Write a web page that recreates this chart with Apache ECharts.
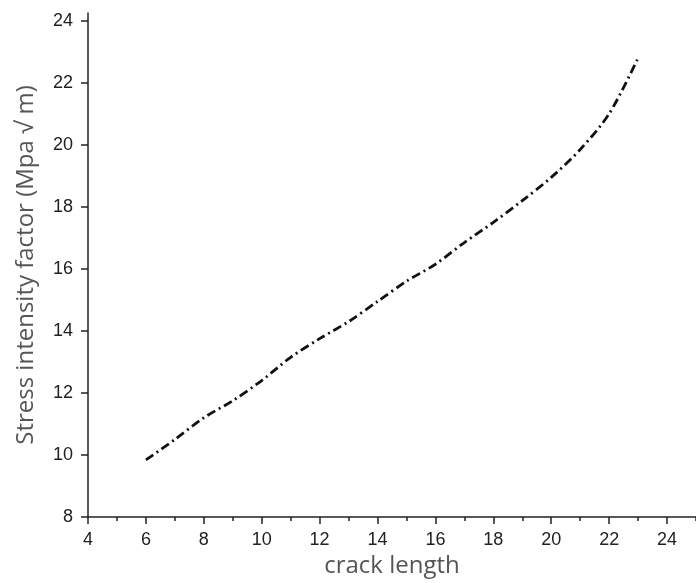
<!DOCTYPE html>
<html>
<head>
<meta charset="utf-8">
<script src="https://cdn.jsdelivr.net/npm/echarts@6/dist/echarts.min.js"></script>
<style>html,body{margin:0;padding:0;background:#fff}#c{width:696px;height:583px}</style>
</head>
<body>
<div id="c"></div>
<script>
const crackLength = [6, 7, 8, 9, 10, 11, 12, 13, 14, 15, 16, 17, 18, 19, 20, 21, 22, 23];
const stressFactor = [9.84, 10.5, 11.2, 11.75, 12.4, 13.15, 13.75, 14.3, 14.95, 15.6, 16.15, 16.85, 17.5, 18.2, 18.95, 19.85, 21.0, 22.8];
const xMajorTicks = [4, 6, 8, 10, 12, 14, 16, 18, 20, 22, 24];
const xMinorTicks = [5, 7, 9, 11, 13, 15, 17, 19, 21, 23, 25];
const yTicks = [8, 10, 12, 14, 16, 18, 20, 22, 24];

const chart = echarts.init(document.getElementById('c'));
const font = 'Liberation Sans, Arial, sans-serif';
chart.setOption({
  animation: false,
  backgroundColor: '#fff',
  grid: { left: 88, right: 0, top: 13, bottom: 66 },
  xAxis: [{
    type: 'value', min: 4, max: 25,
    name: 'crack length', nameLocation: 'middle', nameGap: 36,
    nameTextStyle: { fontSize: 24, color: '#555', fontFamily: 'Open Sans, sans-serif' },
    axisLine: { show: true, lineStyle: { color: '#222', width: 1.5 } },
    axisTick: { show: true, customValues: xMajorTicks, length: 7, lineStyle: { color: '#222', width: 1.5 } },
    axisLabel: { customValues: xMajorTicks, fontSize: 18, color: '#222', margin: 14, fontFamily: font },
    splitLine: { show: false }
  }, {
    type: 'value', min: 4, max: 25, position: 'bottom',
    axisLine: { show: false },
    axisTick: { show: true, customValues: xMinorTicks, length: 4, lineStyle: { color: '#222', width: 1.5 } },
    axisLabel: { show: false },
    splitLine: { show: false }
  }],
  yAxis: {
    type: 'value', min: 8, max: 24.25,
    name: 'Stress intensity factor (Mpa \u221A m)', nameLocation: 'middle', nameGap: 50,
    nameTextStyle: { fontSize: 24, color: '#555', fontFamily: 'Open Sans, sans-serif' },
    axisLine: { show: true, lineStyle: { color: '#222', width: 1.5 } },
    axisTick: { show: true, customValues: yTicks, length: 7, lineStyle: { color: '#222', width: 1.5 } },
    axisLabel: { customValues: yTicks, fontSize: 18, color: '#222', margin: 15, fontFamily: font },
    splitLine: { show: false }
  },
  series: [{
    type: 'line',
    xAxisIndex: 0,
    data: crackLength.map((x, i) => [x, stressFactor[i]]),
    symbol: 'none',
    smooth: 0.3,
    lineStyle: { color: '#111', width: 2.8, type: [9, 4, 2, 4] }
  }]
});
</script>
</body>
</html>
